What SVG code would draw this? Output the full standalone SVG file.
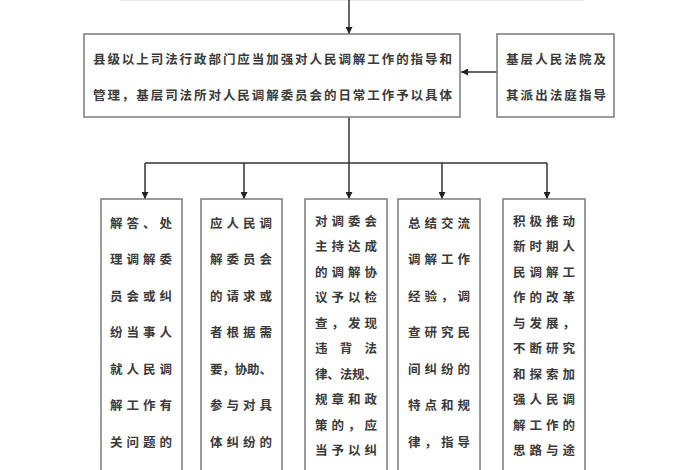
<svg xmlns="http://www.w3.org/2000/svg" width="700" height="470" viewBox="0 0 700 470">
<style>
.box{fill:#fff;stroke:#7a7a7a;stroke-width:1.5}
.t{font-family:"Liberation Sans","Noto Sans CJK SC",sans-serif;font-size:12.5px;font-weight:bold;fill:#3a3a3a}
.c{text-anchor:middle}
.ln{stroke:#333;stroke-width:1.5;fill:none}
</style>
<defs>
<marker id="ah" viewBox="0 0 10 10" refX="10" refY="5" markerWidth="7" markerHeight="7" markerUnits="userSpaceOnUse" orient="auto">
<path d="M0,0 L10,5 L0,10 z" fill="#222"/>
</marker>
</defs>
<rect width="700" height="470" fill="#fff"/>
<line x1="120" y1="0.5" x2="584" y2="0.5" stroke="#e6e6e6" stroke-width="1"/>

<g id="connectors">
<line class="ln" x1="349" y1="0" x2="349" y2="34" marker-end="url(#ah)"/>
<line class="ln" x1="497" y1="72" x2="461" y2="72" marker-end="url(#ah)"/>
<line class="ln" x1="349" y1="117" x2="349" y2="163"/>
<line class="ln" x1="145" y1="163" x2="547" y2="163"/>
<line class="ln" x1="145" y1="163" x2="145" y2="199" marker-end="url(#ah)"/>
<line class="ln" x1="244" y1="163" x2="244" y2="199" marker-end="url(#ah)"/>
<line class="ln" x1="349" y1="163" x2="349" y2="199" marker-end="url(#ah)"/>
<line class="ln" x1="442" y1="163" x2="442" y2="199" marker-end="url(#ah)"/>
<line class="ln" x1="547" y1="163" x2="547" y2="199" marker-end="url(#ah)"/>
</g>

<g id="main">
<rect class="box" x="84" y="34" width="376" height="83"/>
<text class="t" x="93" y="63.5" textLength="359" lengthAdjust="spacing">县级以上司法行政部门应当加强对人民调解工作的指导和</text>
<text class="t" x="93" y="100" textLength="359" lengthAdjust="spacing">管理，基层司法所对人民调解委员会的日常工作予以具体</text>
</g>

<g id="court">
<rect class="box" x="497" y="34" width="117" height="83"/>
<text class="t" x="506" y="63.5" textLength="100" lengthAdjust="spacing">基层人民法院及</text>
<text class="t" x="506" y="100" textLength="100" lengthAdjust="spacing">其派出法庭指导</text>
</g>

<g id="n1">
<rect class="box" x="101" y="199" width="81" height="290"/>
<g class="t">
<text x="110" y="227.5" textLength="62" lengthAdjust="spacing">解答、处</text>
<text x="110" y="264" textLength="62" lengthAdjust="spacing">理调解委</text>
<text x="110" y="300.5" textLength="62" lengthAdjust="spacing">员会或纠</text>
<text x="110" y="337" textLength="62" lengthAdjust="spacing">纷当事人</text>
<text x="110" y="373.5" textLength="62" lengthAdjust="spacing">就人民调</text>
<text x="110" y="410" textLength="62" lengthAdjust="spacing">解工作有</text>
<text x="110" y="446.5" textLength="62" lengthAdjust="spacing">关问题的</text>
</g>
</g>

<g id="n2">
<rect class="box" x="201" y="199" width="81" height="290"/>
<g class="t">
<text x="210" y="227.5" textLength="62" lengthAdjust="spacing">应人民调</text>
<text x="210" y="264" textLength="62" lengthAdjust="spacing">解委员会</text>
<text x="210" y="300.5" textLength="62" lengthAdjust="spacing">的请求或</text>
<text x="210" y="337" textLength="62" lengthAdjust="spacing">者根据需</text>
<text x="210" y="373.5" textLength="62" lengthAdjust="spacing">要，协助、</text>
<text x="210" y="410" textLength="62" lengthAdjust="spacing">参与对具</text>
<text x="210" y="446.5" textLength="62" lengthAdjust="spacing">体纠纷的</text>
</g>
</g>

<g id="n3">
<rect class="box" x="305" y="199" width="82" height="290"/>
<g class="t">
<text x="315" y="225.5" textLength="62" lengthAdjust="spacing">对调委会</text>
<text x="315" y="251" textLength="62" lengthAdjust="spacing">主持达成</text>
<text x="315" y="276.5" textLength="62" lengthAdjust="spacing">的调解协</text>
<text x="315" y="302" textLength="62" lengthAdjust="spacing">议予以检</text>
<text x="315" y="327.5" textLength="62" lengthAdjust="spacing">查，发现</text>
<text x="315" y="353" textLength="62" lengthAdjust="spacing">违背法</text>
<text x="315" y="378.5" textLength="62" lengthAdjust="spacing">律、法规、</text>
<text x="315" y="404" textLength="62" lengthAdjust="spacing">规章和政</text>
<text x="315" y="429.5" textLength="62" lengthAdjust="spacing">策的，应</text>
<text x="315" y="455" textLength="62" lengthAdjust="spacing">当予以纠</text>
</g>
</g>

<g id="n4">
<rect class="box" x="398" y="199" width="82" height="290"/>
<g class="t">
<text x="408" y="227.5" textLength="62" lengthAdjust="spacing">总结交流</text>
<text x="408" y="264" textLength="62" lengthAdjust="spacing">调解工作</text>
<text x="408" y="300.5" textLength="62" lengthAdjust="spacing">经验，调</text>
<text x="408" y="337" textLength="62" lengthAdjust="spacing">查研究民</text>
<text x="408" y="373.5" textLength="62" lengthAdjust="spacing">间纠纷的</text>
<text x="408" y="410" textLength="62" lengthAdjust="spacing">特点和规</text>
<text x="408" y="446.5" textLength="62" lengthAdjust="spacing">律，指导</text>
</g>
</g>

<g id="n5">
<rect class="box" x="503" y="199" width="82" height="290"/>
<g class="t">
<text x="513" y="225.5" textLength="62" lengthAdjust="spacing">积极推动</text>
<text x="513" y="251" textLength="62" lengthAdjust="spacing">新时期人</text>
<text x="513" y="276.5" textLength="62" lengthAdjust="spacing">民调解工</text>
<text x="513" y="302" textLength="62" lengthAdjust="spacing">作的改革</text>
<text x="513" y="327.5" textLength="62" lengthAdjust="spacing">与发展，</text>
<text x="513" y="353" textLength="62" lengthAdjust="spacing">不断研究</text>
<text x="513" y="378.5" textLength="62" lengthAdjust="spacing">和探索加</text>
<text x="513" y="404" textLength="62" lengthAdjust="spacing">强人民调</text>
<text x="513" y="429.5" textLength="62" lengthAdjust="spacing">解工作的</text>
<text x="513" y="455" textLength="62" lengthAdjust="spacing">思路与途</text>
</g>
</g>
</svg>
